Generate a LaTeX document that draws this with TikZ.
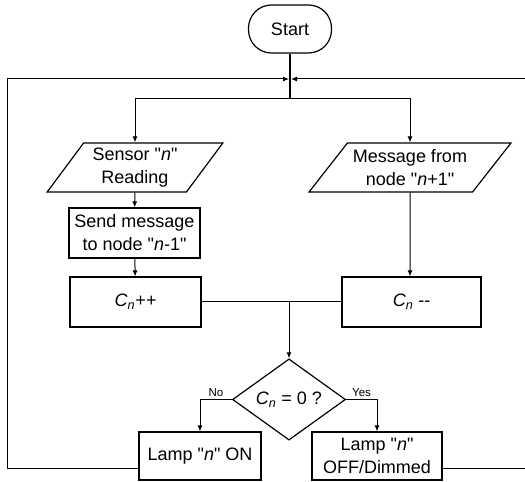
\documentclass[tikz,border=0pt]{standalone}
\usepackage{fontspec}
\setmainfont{Liberation Sans}[Ligatures=TeXOff]
\usetikzlibrary{shapes.geometric,arrows.meta}

\def \boxLine {1.2pt}
\def \Cn {\textit{C\textsubscript{n}}}

\tikzset{
  box/.style={draw, line width=\boxLine, align=center, inner sep=2pt,
    font=\fontsize{18}{23}\selectfont},
  proc/.style={box, rectangle, minimum height=50pt},
  term/.style={box, rectangle, rounded corners=23pt, minimum width=83pt, minimum height=48pt},
  io/.style={box, trapezium, trapezium stretches=true, minimum height=49pt},
  decide/.style={box, diamond, inner sep=0pt, minimum width=113pt, minimum height=81pt},
  flow/.style={line width=1pt, -{Latex[length=6pt,width=5pt]}},
  tag/.style={font=\fontsize{11.5}{13}\selectfont, inner sep=2pt}
}

\begin{document}
\begin{tikzpicture}[x=1pt,y=1pt]
  \useasboundingbox (0,0) rectangle (525,482);

  \node[term] (start) at (290,453) {Start};
  \node[io, trapezium left angle=54, trapezium right angle=126, minimum width=176pt]
    (sensor) at (135,314.5) {Sensor "\textit{n}"\\Reading};
  \node[io, trapezium left angle=48, trapezium right angle=132, minimum width=202pt]
    (msg) at (410,314.5) {Message from\\node "\textit{n}+1"};
  \node[proc, minimum width=131pt] (send) at (134.5,249) {Send message\\to node "\textit{n}-1"};
  \node[proc, minimum width=131pt] (inc) at (135.5,180) {\textit{C\textsubscript{n}++}};
  \node[proc, minimum width=139pt] (dec) at (411.5,180) {\Cn{} --};
  \node[decide] (test) at (289,82.5) {\Cn{} = 0 ?};
  \node[proc, minimum width=122pt, minimum height=48pt] (on) at (200,26) {Lamp "\textit{n}" ON};
  \node[proc, minimum width=130pt, minimum height=48pt] (off) at (377,26) {Lamp "\textit{n}"\\OFF/Dimmed};

  \coordinate (join) at (290,403);
  \coordinate (split) at (290,383);
  \coordinate (mid) at (289,180);

  \draw[line width=1.6pt] (start) -- (split);
  \draw[flow] (split) -| (sensor);
  \draw[flow] (split) -| (msg);
  \draw[flow] (sensor) -- (send);
  \draw[flow] (send) -- (inc);
  \draw[flow] (msg) -- (msg |- dec.north);
  \draw[line width=1pt] (inc) -- (dec);
  \draw[flow] (mid) -- (test);
  \draw[flow] (test.west) -| node[tag, pos=0.25, above] {No} (on);
  \draw[flow] (test.east) -| node[tag, pos=0.25, above] {Yes} (off);

  % loop back to the top
  \draw[flow] ([yshift=-13pt]on.west) -| (7,403) -- ([xshift=-1pt]join);
  \draw[flow] ([yshift=-13pt]off.east) -| (529,403) -- ([xshift=1pt]join);
\end{tikzpicture}
\end{document}
